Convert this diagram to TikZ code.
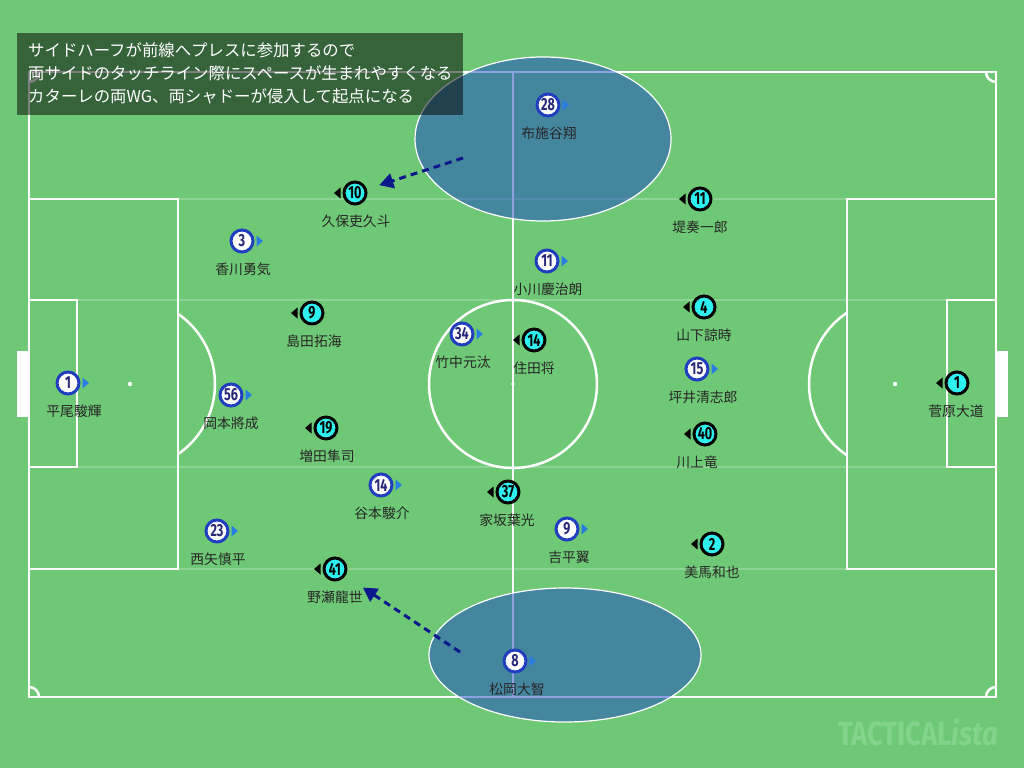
\documentclass[tikz,border=0pt]{standalone}
\usepackage{fontspec}
\setmainfont{Noto Sans CJK JP}
\newfontfamily\numfont{Fira Sans}[FakeStretch=0.72]
\newfontfamily\wmfont{Fira Sans}
\usetikzlibrary{arrows.meta,calc}
\definecolor{pitch}{RGB}{110,200,118}
\definecolor{homeblue}{RGB}{32,62,190}
\definecolor{homearrow}{RGB}{40,125,225}
\definecolor{homenum}{RGB}{40,40,120}
\definecolor{awaycyan}{RGB}{46,240,240}
\definecolor{zone}{RGB}{30,70,200}
\definecolor{arrowblue}{RGB}{12,24,140}
\definecolor{wm}{RGB}{130,212,138}
\tikzset{
  pline/.style={draw=white,line width=2.5pt},
  faint/.style={draw=white,draw opacity=0.22,line width=1.6pt},
  home/.style={circle,draw=homeblue,line width=3pt,fill=white,minimum size=22pt,inner sep=0pt,text=homenum,font=\numfont\bfseries\fontsize{17.5}{17.5}\selectfont},
  away/.style={circle,draw=black,line width=3pt,fill=awaycyan,minimum size=22pt,inner sep=0pt,text=black,font=\numfont\bfseries\fontsize{17.5}{17.5}\selectfont},
  pname/.style={inner sep=0pt,text=black!85,font=\fontsize{13.8}{14}\selectfont},
  zonestyle/.style={fill=zone,fill opacity=0.5,draw=white,line width=1.2pt},
  runarrow/.style={draw=arrowblue,line width=3pt,dash pattern=on 7pt off 5pt,-{Triangle[length=14pt,width=15pt]}},
  boxtext/.style={anchor=west,inner sep=0pt,text=white,font=\fontsize{16.4}{17}\selectfont}
}
\newcommand\hp[6]{%
  \node[home] (#1) at (#2,#3) {#4};
  \fill[homearrow] ($(#1)+(14.5,-5.5)$) -- ($(#1)+(21,0)$) -- ($(#1)+(14.5,5.5)$) -- cycle;
  \node[pname] (#1n) at ($(#1)+(#6,28)$) {#5};
}
\newcommand\ap[6]{%
  \node[away] (#1) at (#2,#3) {#4};
  \fill[black] ($(#1)+(-14.5,-5.5)$) -- ($(#1)+(-21,0)$) -- ($(#1)+(-14.5,5.5)$) -- cycle;
  \node[pname] (#1n) at ($(#1)+(#6,28)$) {#5};
}
\begin{document}
\begin{tikzpicture}[x=1pt,y=-1pt]
\fill[pitch] (0,0) rectangle (1024,768);
\useasboundingbox (0,0) rectangle (1024,768);
% faint stripes
\draw[faint] (29,199) -- (996,199);
\draw[faint] (29,300) -- (996,300);
\draw[faint] (29,467) -- (996,467);
\draw[faint] (29,569) -- (996,569);
% pitch
\draw[pline] (29,72) rectangle (996,697);
\draw[pline] (513,72) -- (513,697);
\draw[pline] (513,384) circle (84);
\fill[white] (513,384) circle (1.8);
\draw[pline] (29,199) rectangle (178,569);
\draw[pline] (847,199) rectangle (996,569);
\draw[pline] (29,300) rectangle (77,467);
\draw[pline] (947,300) rectangle (996,467);
\fill[white] (130,384) circle (2.2);
\fill[white] (895,384) circle (2.2);
\begin{scope}
  \clip (178,250) rectangle (260,520);
  \draw[pline] (130,384) circle (85);
\end{scope}
\begin{scope}
  \clip (765,250) rectangle (847,520);
  \draw[pline] (895,384) circle (86);
\end{scope}
\begin{scope}
  \clip (29,72) rectangle (996,697);
  \draw[pline] (29,72) circle (10);
  \draw[pline] (996,72) circle (10);
  \draw[pline] (29,697) circle (10);
  \draw[pline] (996,697) circle (10);
\end{scope}
\fill[white] (17,351) rectangle (29,417);
\fill[white] (996,351) rectangle (1008,417);
% zones
\path[zonestyle] (543,139) ellipse (128 and 82);
\path[zonestyle] (565,655) ellipse (136 and 67);
% home players (white)
\hp{h28}{548}{105}{28}{布施谷翔}{1}
\hp{h3}{242}{241}{3}{香川勇気}{1}
\hp{h1}{68}{383}{1}{平尾駿輝}{6}
\hp{h56}{231}{395}{56}{岡本將成}{0}
\hp{h14}{381}{485}{14}{谷本駿介}{1}
\hp{h23}{217}{531}{23}{西矢慎平}{1}
\hp{h34}{462}{334}{34}{竹中元汰}{1}
\hp{h11}{547}{261}{11}{小川慶治朗}{1}
\hp{h9}{567}{529}{9}{吉平翼}{2}
\hp{h15}{697}{369}{15}{坪井清志郎}{6}
\hp{h8}{515}{661}{8}{松岡大智}{2}
% away players (cyan)
\ap{a10}{355}{193}{10}{久保吏久斗}{1}
\ap{a9}{312}{313}{9}{島田拓海}{2}
\ap{a14}{534}{340}{14}{住田将}{0}
\ap{a19}{326}{428}{19}{増田隼司}{1}
\ap{a37}{508}{492}{37}{家坂葉光}{-1}
\ap{a41}{335}{569}{41}{野瀬龍世}{0}
\ap{a11}{700}{199}{11}{堤奏一郎}{0}
\ap{a4}{704}{307}{4}{山下諒時}{0}
\ap{a40}{705}{434}{40}{川上竜}{-8}
\ap{a2}{712}{544}{2}{美馬和也}{0}
\ap{a1}{957}{383}{1}{菅原大道}{-1}
% runs
\coordinate (r1) at (463,158);
\coordinate (r2) at (460,652);
\draw[runarrow,shorten >=13pt] (r1) -- (a10);
\draw[runarrow,shorten >=21pt] (r2) -- (a41);
% caption box
\fill[black,fill opacity=0.5] (17,33) rectangle (463,115);
\node[boxtext] (t1) at (28,50) {サイドハーフが前線へプレスに参加するので};
\node[boxtext] (t2) at (28,73) {両サイドのタッチライン際にスペースが生まれやすくなる};
\node[boxtext] (t3) at (28,96) {カターレの両WG、両シャドーが侵入して起点になる};
% watermark
\node[inner sep=0pt,text=wm] (wm) at (918,732) {\resizebox{160pt}{27pt}{\wmfont\bfseries TACTICAL\itshape ista}};
\end{tikzpicture}
\end{document}
